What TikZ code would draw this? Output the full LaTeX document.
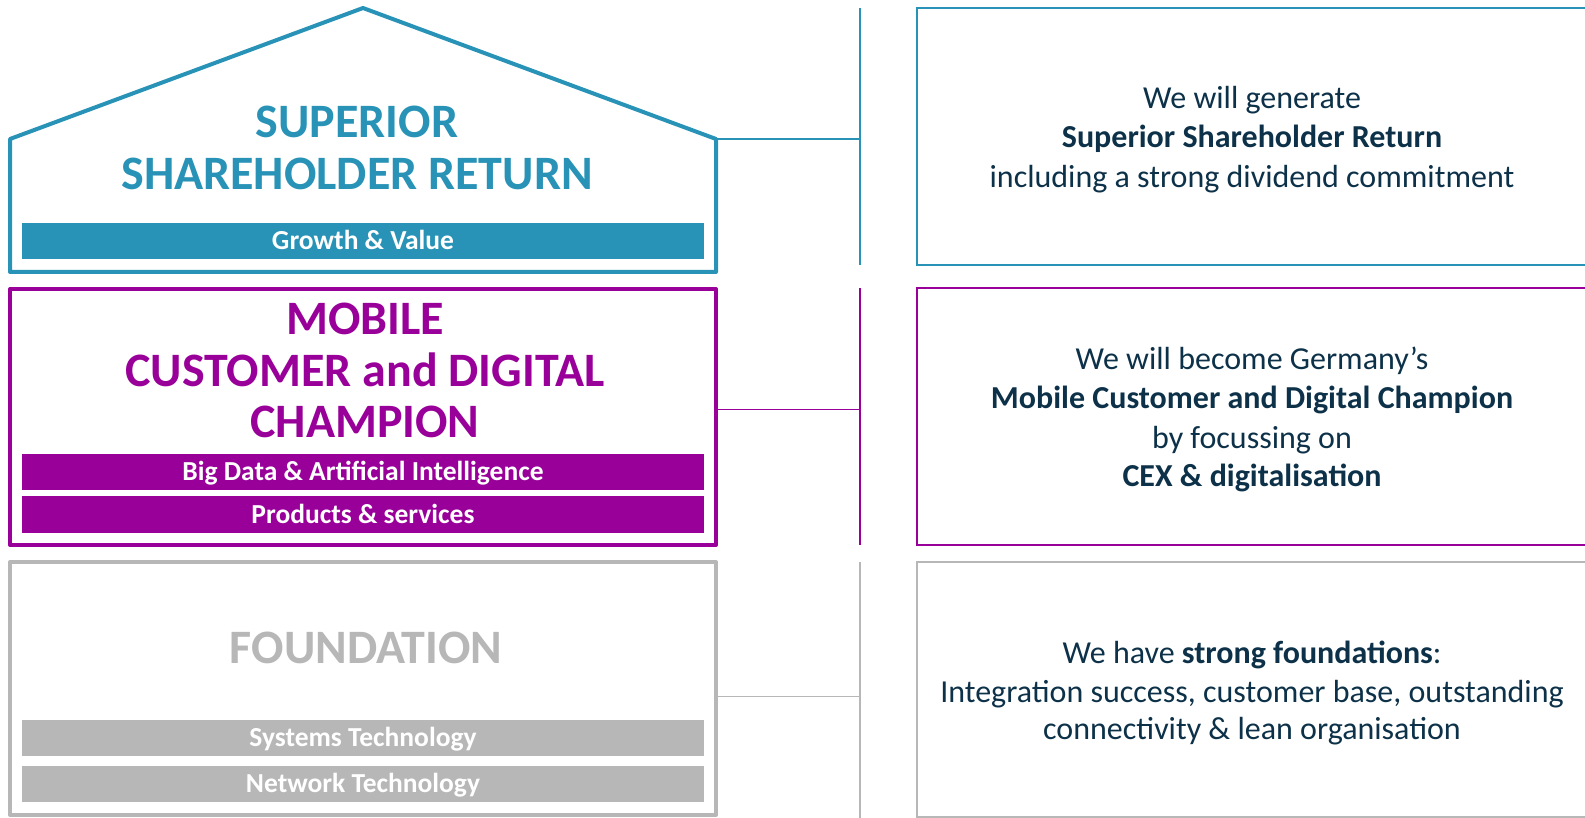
\documentclass[tikz,border=0pt]{standalone}
\usepackage{fontspec}
\setmainfont{Carlito}
\definecolor{tealc}{HTML}{2893B7}
\definecolor{purpc}{HTML}{990099}
\definecolor{grayc}{HTML}{B7B7B7}
\definecolor{navyc}{HTML}{0C3148}
\begin{document}
\begin{tikzpicture}[x=1pt,y=-1pt,
  bar/.style={rectangle, draw=none, minimum width=682pt, minimum height=36.5pt, inner sep=0pt,
    text height=17.5pt, text depth=0pt,
    text=white, font=\fontsize{27.5}{32}\selectfont\bfseries},
  title/.style={align=center, inner sep=0pt, font=\fontsize{48}{51.5}\selectfont\bfseries},
  rtext/.style={anchor=base, inner sep=0pt, text=navyc, font=\fontsize{32}{38}\selectfont},
  rbold/.style={rtext, font=\fontsize{32}{38}\selectfont\bfseries},
  thick1/.style={line width=4pt, line join=round},
  thin1/.style={line width=1.8pt}]
\useasboundingbox (0,0) rectangle (1585,818);
% ---------- row 1 : house ----------
\coordinate (hL) at (10,139);
\coordinate (hT) at (363,8);
\coordinate (hR) at (716,139);
\coordinate (hBR) at (716,272);
\coordinate (hBL) at (10,272);
\draw[tealc, thick1, fill=white] (hL) -- (hT) -- (hR) -- (hBR) -- (hBL) -- cycle;
\node[title, text=tealc] (t1) at (357,148) {SUPERIOR\\SHAREHOLDER RETURN};
\node[bar, fill=tealc] (gv) at (363,241) {Growth \& Value};
\coordinate (v1t) at (860,8);
\coordinate (v1b) at (860,265);
\coordinate (v1m) at (860,139);
\draw[tealc, thin1] (v1t) -- (v1b);
\draw[tealc, thin1] (hR) -- (v1m);
\coordinate (r1a) at (917,8);
\coordinate (r1b) at (1600,265);
\draw[tealc, thin1] (r1a) rectangle (r1b);
\node[rtext] (a1) at (1252,109) {We will generate};
\node[rbold] (a2) at (1252,148) {Superior Shareholder Return};
\node[rtext] (a3) at (1252,187.5) {including a strong dividend commitment};
% ---------- row 2 ----------
\coordinate (pA) at (10,289);
\coordinate (pB) at (716,545);
\coordinate (pR) at (716,409.5);
\draw[purpc, thick1, fill=white] (pA) rectangle (pB);
\node[title, text=purpc] (t2) at (365,370.5) {MOBILE\\CUSTOMER and DIGITAL\\CHAMPION};
\node[bar, fill=purpc] (bd) at (363,472) {Big Data \& Artificial Intelligence};
\node[bar, fill=purpc] (ps) at (363,514.5) {Products \& services};
\coordinate (v2t) at (860,288);
\coordinate (v2b) at (860,545);
\coordinate (v2m) at (860,409.5);
\draw[purpc, thin1] (v2t) -- (v2b);
\draw[purpc, thin1] (pR) -- (v2m);
\coordinate (r2a) at (917,288);
\coordinate (r2b) at (1600,545);
\draw[purpc, thin1] (r2a) rectangle (r2b);
\node[rtext] (b1) at (1252,370) {We will become Germany’s};
\node[rbold] (b2) at (1252,408) {Mobile Customer and Digital Champion};
\node[rtext] (b3) at (1252,448) {by focussing on};
\node[rbold] (b4) at (1252,486) {CEX \& digitalisation};
% ---------- row 3 ----------
\coordinate (gA) at (10,562);
\coordinate (gB) at (716,815);
\coordinate (gR) at (716,696.5);
\draw[grayc, thick1, fill=white] (gA) rectangle (gB);
\node[title, text=grayc] (t3) at (366,648) {FOUNDATION};
\node[bar, fill=grayc] (st) at (363,738) {Systems Technology};
\node[bar, fill=grayc] (nt) at (363,784) {Network Technology};
\coordinate (v3t) at (860,562);
\coordinate (v3b) at (860,830);
\coordinate (v3m) at (860,696.5);
\draw[grayc, thin1] (v3t) -- (v3b);
\draw[grayc, thin1] (gR) -- (v3m);
\coordinate (r3a) at (917,562);
\coordinate (r3b) at (1600,817);
\draw[grayc, thin1] (r3a) rectangle (r3b);
\node[rtext] (c1) at (1252,663) {We have \textbf{strong foundations}:};
\node[rtext] (c2) at (1252,702.5) {Integration success, customer base, outstanding};
\node[rtext] (c3) at (1252,739) {connectivity \& lean organisation};
\end{tikzpicture}
\end{document}
